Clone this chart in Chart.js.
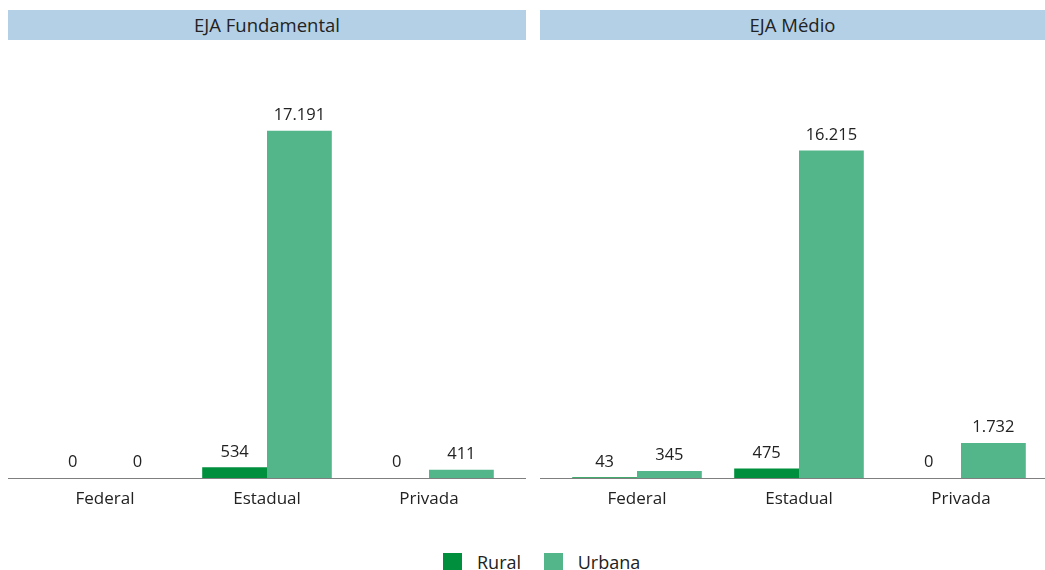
<!DOCTYPE html>
<html>
<head>
<meta charset="utf-8">
<script src="https://cdn.jsdelivr.net/npm/chart.js@4/dist/chart.umd.min.js"></script>
<style>
  body { margin: 0; width: 1045px; height: 570px; background: #fff; overflow: hidden; position: relative; font-family: "Open Sans", sans-serif; color: #222; }
  .head { position: absolute; top: 10px; height: 30px; background: #b4d0e6; font-size: 18.5px; line-height: 30px; text-align: center; }
  .box { position: absolute; top: 40px; height: 490px; }
  .legend { position: absolute; top: 550px; left: 443px; height: 20px; line-height: 20px; font-size: 18px; white-space: nowrap; }
  .legend span { display: inline-block; vertical-align: middle; }
  .sw { width: 19px; height: 19px; margin-right: 15px; }
</style>
</head>
<body>
<div class="head" style="left:8px;width:518px">EJA Fundamental</div>
<div class="head" style="left:540px;width:505px">EJA Médio</div>
<div class="box" style="left:8px;width:518px"><canvas id="c1"></canvas></div>
<div class="box" style="left:540px;width:505px"><canvas id="c2"></canvas></div>
<div class="legend">
  <span class="sw" style="background:#008f3c"></span><span style="margin-right:18px">Rural</span>
  <span class="sw" style="background:#52b68a"></span><span>Urbana</span>
</div>
<script>
const categories = ["Federal", "Estadual", "Privada"];
const fundRural = [0, 534, 0];
const fundUrbana = [0, 17191, 411];
const medioRural = [43, 475, 0];
const medioUrbana = [345, 16215, 1732];

const fmt = v => v.toLocaleString("pt-BR");

const valueLabels = {
  id: "valueLabels",
  afterDatasetsDraw(chart) {
    const ctx = chart.ctx;
    ctx.save();
    ctx.font = "16.5px 'Open Sans'";
    ctx.fillStyle = "#222";
    ctx.textAlign = "center";
    ctx.textBaseline = "bottom";
    chart.data.datasets.forEach((ds, i) => {
      chart.getDatasetMeta(i).data.forEach((bar, j) => {
        ctx.fillText(fmt(ds.data[j]), bar.x, bar.y - 7);
      });
    });
    // baseline across whole panel
    const y = chart.scales.y.getPixelForValue(0);
    ctx.strokeStyle = "#7f7f7f";
    ctx.lineWidth = 1;
    ctx.beginPath();
    ctx.moveTo(0, Math.round(y) + 0.5);
    ctx.lineTo(chart.width, Math.round(y) + 0.5);
    ctx.stroke();
    ctx.restore();
  }
};

function makeChart(id, rural, urbana, padRight) {
  new Chart(document.getElementById(id), {
    type: "bar",
    data: {
      labels: categories,
      datasets: [
        { label: "Rural", data: rural, backgroundColor: "#008f3c", categoryPercentage: 0.8, barPercentage: 1 },
        { label: "Urbana", data: urbana, backgroundColor: "#52b68a", categoryPercentage: 0.8, barPercentage: 1 }
      ]
    },
    options: {
      responsive: true,
      maintainAspectRatio: false,
      animation: false,
      layout: { padding: { left: 16, right: padRight, top: 34, bottom: 0 } },
      plugins: { legend: { display: false }, tooltip: { enabled: false } },
      scales: {
        x: {
          grid: { display: false },
          border: { display: false },
          ticks: { color: "#222", font: { family: "Open Sans", size: 17 }, padding: 3 },
          afterFit: s => { s.height = 52; }
        },
        y: { display: false, min: 0, max: 20000 }
      }
    },
    plugins: [valueLabels]
  });
}

makeChart("c1", fundRural, fundUrbana, 16);
makeChart("c2", medioRural, medioUrbana, 3);
</script>
</body>
</html>
